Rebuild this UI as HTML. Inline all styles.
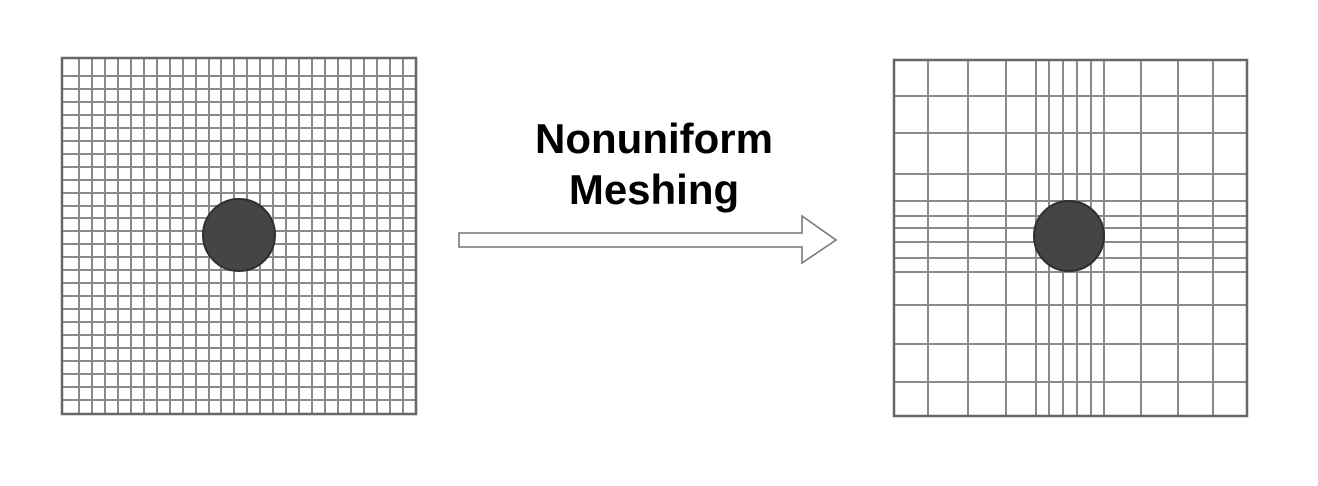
<!DOCTYPE html>
<html><head><meta charset="utf-8"><style>
html,body{margin:0;padding:0;background:#fff;width:1318px;height:486px;overflow:hidden}
svg{display:block}
</style></head><body>
<svg width="1318" height="486" viewBox="0 0 1318 486" xmlns="http://www.w3.org/2000/svg">
<g stroke="#8a8a8a" stroke-width="2" fill="none">
<path d="M79 58V414M92 58V414M105 58V414M118 58V414M131 58V414M144 58V414M157 58V414M170 58V414M183 58V414M196 58V414M209 58V414M221 58V414M234 58V414M247 58V414M260 58V414M273 58V414M286 58V414M299 58V414M312 58V414M325 58V414M338 58V414M351 58V414M364 58V414M377 58V414M390 58V414M403 58V414"/>
<path d="M62 76H416M62 89H416M62 102H416M62 115H416M62 128H416M62 141H416M62 154H416M62 167H416M62 180H416M62 193H416M62 206H416M62 218H416M62 231H416M62 244H416M62 257H416M62 270H416M62 283H416M62 296H416M62 309H416M62 322H416M62 335H416M62 348H416M62 361H416M62 374H416M62 387H416M62 400H416"/>
<path d="M928 60V416M968 60V416M1006 60V416M1036 60V416M1049 60V416M1063 60V416M1077 60V416M1091 60V416M1104 60V416M1141 60V416M1178 60V416M1213 60V416"/>
<path d="M894 96H1247M894 133H1247M894 174H1247M894 201H1247M894 216H1247M894 228H1247M894 242H1247M894 258H1247M894 272H1247M894 305H1247M894 344H1247M894 382H1247"/>
</g>
<rect x="62" y="58" width="354" height="356" fill="none" stroke="#666" stroke-width="2.5"/>
<rect x="894" y="60" width="353" height="356" fill="none" stroke="#666" stroke-width="2.5"/>
<circle cx="239" cy="235" r="36" fill="#454545" stroke="#2e2e2e" stroke-width="2"/>
<circle cx="1069" cy="236" r="35" fill="#454545" stroke="#2e2e2e" stroke-width="2"/>
<path d="M459 233H802V216L836 240L802 263V247H459Z" fill="#fff" stroke="#777" stroke-width="1.6" stroke-linejoin="miter"/>
<g font-family="Liberation Sans, sans-serif" font-weight="bold" font-size="42" fill="#000" text-anchor="middle">
<text x="654" y="153">Nonuniform</text>
<text x="654" y="204">Meshing</text>
</g>
</svg>
</body></html>
